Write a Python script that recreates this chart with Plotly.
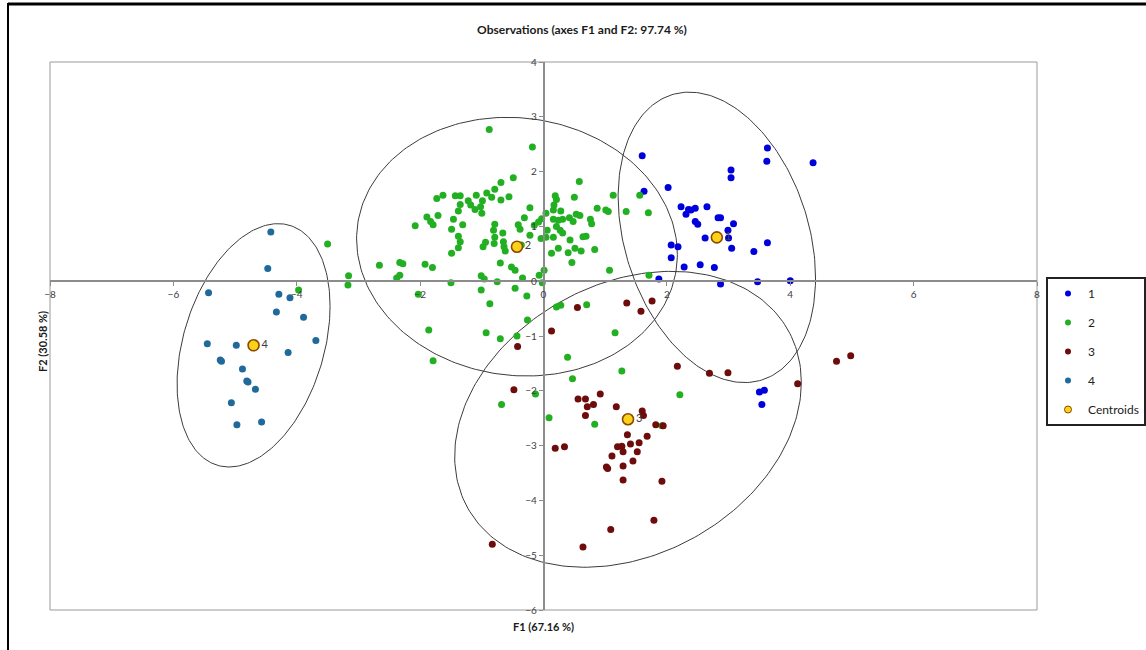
import numpy as np
import plotly.graph_objects as go

# ---- observations by class (F1, F2 scores) ----
x1 = [1.60, 3.63, 3.62, 4.37, 3.04, 3.04, 2.02, 1.63, 2.23, 2.35, 2.39, 2.46, 2.31, 2.65, 2.46,
      2.50, 2.83, 2.87, 3.08, 2.99, 3.00, 2.62, 2.07, 2.18, 3.05, 3.63, 3.41, 2.07, 2.28, 2.54,
      2.77, 1.87, 2.87, 3.47, 4.00, 3.50, 3.58, 3.54]
y1 = [2.29, 2.43, 2.19, 2.16, 2.03, 1.89, 1.71, 1.64, 1.36, 1.31, 1.30, 1.33, 1.22, 1.36, 1.09,
      1.04, 1.16, 1.16, 1.05, 0.93, 0.79, 0.79, 0.66, 0.63, 0.60, 0.70, 0.54, 0.43, 0.26, 0.30,
      0.25, 0.04, -0.05, -0.01, 0.01, -2.02, -1.99, -2.25]

x2 = [-0.88, -0.18, -0.49, -0.69, -0.79, -0.92, -0.84, -0.56, -0.69, -1.09, -1.43, -1.35, -1.63,
      -1.73, -1.22, -1.35, -1.18, -0.99, -1.02, -1.11, -1.00, -1.38, -1.71, -1.89, -1.83, -1.79,
      -2.08, -1.46, -1.31, -1.49, -1.38, -1.35, -1.38, -1.49, -0.79, -0.81, -0.66, -0.79, -0.94,
      -0.98, -0.80, -0.65, -0.64, -0.62, -0.31, -0.22, -0.41, -0.38, -0.36, -0.70, -0.52, -0.46,
      -0.34, -0.07, -0.02, 0.01, -2.66, -2.33, -2.28, -1.92, -1.80, -2.33, -2.38, -3.16, -3.17,
      -1.50, -1.01, -0.96, -0.75, -1.01, -0.46, -0.27, -0.87, -2.03, -3.50, -3.97,
      0.58, 0.19, 0.21, 0.50, 0.17, 0.28, 0.16, 0.04, -0.03, -0.08, -0.15, 0.06, 0.16, 0.24,
      0.31, 0.42, 0.53, 0.59, 0.48, 0.21, 0.27, 0.31, 0.43, 0.16, 0.04, -0.04, 0.64, 0.69, 0.76,
      0.78, 0.87, 1.01, 1.05, 1.34, 1.13, 1.56, 0.24, 0.13, 0.40, 0.51, 0.61, 0.83, 0.46, 1.07,
      -0.22, 1.70, 1.71,
      0.21, 0.28, 0.70, -0.26, -1.86, -0.93, -0.70, -0.43, -1.79, 0.39, 0.47, -0.13, -0.68, 0.09,
      0.83, 1.16, 1.27, 2.21, 1.92]
y2 = [2.77, 2.45, 1.89, 1.80, 1.68, 1.61, 1.53, 1.54, 1.48, 1.57, 1.56, 1.56, 1.57, 1.51, 1.47,
      1.40, 1.39, 1.47, 1.36, 1.31, 1.24, 1.28, 1.20, 1.17, 1.09, 1.03, 1.01, 1.13, 1.03, 0.95,
      0.82, 0.72, 0.61, 0.51, 1.04, 0.93, 0.88, 0.80, 0.71, 0.63, 0.69, 0.72, 0.63, 0.55, 1.16,
      1.34, 1.03, 0.95, 0.66, 0.33, 0.26, 0.20, 0.06, 0.11, -0.03, 0.20, 0.29, 0.34, 0.32, 0.31,
      0.25, 0.11, 0.06, 0.10, -0.07, -0.03, 0.10, 0.04, -0.01, -0.16, -0.13, -0.27, -0.41, -0.24,
      0.68, -0.16,
      1.82, 1.56, 1.49, 1.53, 1.39, 1.28, 1.30, 1.24, 1.14, 1.08, 1.02, 0.93, 1.13, 1.11, 1.13,
      1.16, 1.22, 1.20, 1.09, 1.00, 0.93, 0.88, 0.75, 0.80, 0.80, 0.78, 0.81, 0.82, 1.13, 1.05,
      1.33, 1.30, 1.27, 1.27, 1.57, 1.57, 0.60, 0.51, 0.52, 0.60, 0.55, 0.58, 0.34, 0.20, 0.84,
      1.25, 0.11,
      -0.47, -0.44, -0.43, -0.71, -0.89, -0.94, -1.05, -1.00, -1.45, -1.39, -1.78, -2.06, -2.25,
      -2.49, -2.61, -0.94, -1.64, -2.07, -2.64]

x3 = [0.55, 0.13, -0.42, -0.48, 1.35, 1.76, 1.58, 2.17, 0.92, 0.56, 0.68, 0.81, 0.71, 0.68, 1.18,
      1.60, 1.62, 1.82, 1.94, 1.68, 1.36, 1.41, 1.55, 1.20, 1.27, 1.29, 1.52, 1.11, 1.45, 1.02,
      1.04, 1.29, 1.29, 1.92, 0.19, 0.34, 1.79, 1.09, 0.64, -0.83, 2.69, 2.99, 4.12, 4.75, 4.98]
y3 = [-0.48, -0.91, -1.19, -1.98, -0.40, -0.36, -0.55, -1.55, -2.06, -2.15, -2.15, -2.25, -2.29,
      -2.45, -2.29, -2.37, -2.45, -2.62, -2.64, -2.83, -2.80, -2.97, -2.95, -3.02, -3.01, -3.11,
      -3.11, -3.19, -3.28, -3.39, -3.42, -3.37, -3.63, -3.65, -3.05, -3.02, -4.36, -4.53, -4.85,
      -4.80, -1.68, -1.67, -1.87, -1.46, -1.36]

x4 = [-4.42, -4.47, -5.43, -4.29, -4.11, -4.33, -3.89, -3.69, -5.45, -4.98, -4.14, -5.24, -5.22,
      -4.88, -4.81, -4.79, -4.67, -5.06, -4.97, -4.57]
y4 = [0.90, 0.23, -0.21, -0.24, -0.30, -0.56, -0.66, -1.08, -1.14, -1.17, -1.30, -1.44, -1.46,
      -1.60, -1.82, -1.84, -1.97, -2.22, -2.62, -2.57]

# ---- class centroids ----
centroid_labels = ["1", "2", "3", "4"]
centroid_x = [2.81, -0.43, 1.37, -4.70]
centroid_y = [0.80, 0.63, -2.52, -1.17]

# ---- confidence ellipses: half-extent along F1, half-extent along F2, correlation ----
ellipse_sx = [1.60, 2.60, 2.81, 1.24]
ellipse_sy = [2.65, 2.36, 2.70, 2.22]
ellipse_r = [-0.28, -0.06, 0.25, 0.32]

class_names = ["1", "2", "3", "4"]
class_colors = ["#0000dc", "#22b022", "#6e0b0b", "#1f6a9a"]
centroid_fill, centroid_edge = "#ffd21a", "#8b4a00"
xs = [x1, x2, x3, x4]
ys = [y1, y2, y3, y4]

W, H = 1146, 650
ML, MR, MT, MB = 50, 109, 62, 40
XMIN, XMAX, YMIN, YMAX = -8, 8, -6, 4
FONT = "Lato"

fig = go.Figure()

# ellipses drawn first so points sit on top
t = np.linspace(0, 2 * np.pi, 241)
for cx, cy, sx, sy, r in zip(centroid_x, centroid_y, ellipse_sx, ellipse_sy, ellipse_r):
    ex = cx + sx * np.cos(t)
    ey = cy + sy * (r * np.cos(t) + np.sqrt(1 - r * r) * np.sin(t))
    fig.add_trace(go.Scatter(x=ex, y=ey, mode="lines", line=dict(color="#3c3c3c", width=1),
                             hoverinfo="skip", showlegend=False))

for name, col, xv, yv in zip(class_names, class_colors, xs, ys):
    fig.add_trace(go.Scatter(x=xv, y=yv, mode="markers", name=name, showlegend=False,
                             marker=dict(color=col, size=7, line=dict(width=0))))

fig.add_trace(go.Scatter(x=centroid_x, y=centroid_y, mode="markers+text", name="Centroids",
                         showlegend=False, text=centroid_labels,
                         textposition="middle right",
                         textfont=dict(family=FONT, size=11, color="#404040"),
                         marker=dict(color=centroid_fill, size=11,
                                     line=dict(color=centroid_edge, width=1.6))))

# legend entries with small symbols
for name, col in zip(class_names, class_colors):
    fig.add_trace(go.Scatter(x=[None], y=[None], mode="markers", name=name, legendgroup=name,
                             marker=dict(color=col, size=6)))
fig.add_trace(go.Scatter(x=[None], y=[None], mode="markers", name="Centroids",
                         legendgroup="Centroids",
                         marker=dict(color=centroid_fill, size=7,
                                     line=dict(color=centroid_edge, width=1))))

x_pos = (0 - YMIN) / (YMAX - YMIN)
y_pos = (0 - XMIN) / (XMAX - XMIN)

axis_common = dict(showgrid=False, zeroline=False, showline=True, linecolor="#8c8c8c",
                   linewidth=1.5, ticks="outside", ticklen=4, tickcolor="#8c8c8c",
                   tickfont=dict(family=FONT, size=10, color="#404040"), anchor="free")

fig.update_layout(
    width=W, height=H,
    margin=dict(l=ML, r=MR, t=MT, b=MB, autoexpand=False),
    paper_bgcolor="white", plot_bgcolor="white",
    xaxis=dict(range=[XMIN, XMAX], tickvals=list(range(-8, 9, 2)), position=x_pos,
               **axis_common),
    yaxis=dict(range=[YMIN, YMAX], tickvals=list(range(-6, 5, 1)), position=y_pos,
               **axis_common),
    title=dict(text="<b>Observations (axes F1 and F2: 97.74 %)</b>", x=582 / W, xref="container",
               xanchor="center", y=1 - 30 / H, yref="container", yanchor="middle",
               font=dict(family=FONT, size=12, color="#1a1a1a")),
    legend=dict(x=1046 / W, y=1 - 277 / H, xref="container", yref="container",
                xanchor="left", yanchor="top", bgcolor="white", bordercolor="#222222",
                borderwidth=2, tracegroupgap=10, itemwidth=30,
                font=dict(family=FONT, size=12, color="#222222"), itemsizing="trace"),
    showlegend=True,
)

# plot-area frame
fig.add_shape(type="rect", xref="paper", yref="paper", x0=0, x1=1, y0=0, y1=1,
              line=dict(color="#9a9a9a", width=1), layer="below")

# outer chart frame (top and left edges)
pw, ph = W - ML - MR, H - MT - MB
fig.add_shape(type="line", xref="paper", yref="paper",
              x0=(8 - ML) / pw, x1=(W - ML) / pw, y0=(H - MB - 4) / ph, y1=(H - MB - 4) / ph,
              line=dict(color="black", width=3))
fig.add_shape(type="line", xref="paper", yref="paper",
              x0=(8 - ML) / pw, x1=(8 - ML) / pw, y0=(H - MB - 3) / ph, y1=-MB / ph,
              line=dict(color="black", width=2))

# axis titles
fig.add_annotation(text="<b>F1 (67.16 %)</b>", xref="paper", yref="paper", x=0.5,
                   y=-16 / ph, xanchor="center", yanchor="middle", showarrow=False,
                   font=dict(family=FONT, size=11, color="#1a1a1a"))
fig.add_annotation(text="<b>F2 (30.58 %)</b>", xref="paper", yref="paper", x=-8 / pw,
                   y=0.5 - 6 / ph, xanchor="center", yanchor="middle", showarrow=False,
                   textangle=-90, font=dict(family=FONT, size=11, color="#1a1a1a"))

fig.write_html("out.html")
